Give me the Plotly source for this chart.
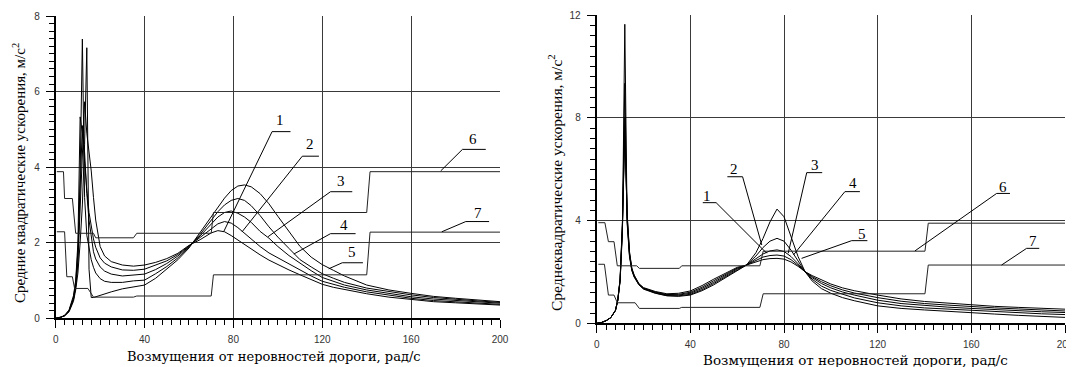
import plotly.graph_objects as go

# ---------------- data: left chart ----------------
xl = [0, 2, 4, 6, 8, 9, 10, 11, 12, 13, 14, 15, 16, 17, 18, 20, 22, 25, 30, 35, 40, 45, 50, 55, 60, 65, 70,
      73, 76, 79, 82, 85, 88, 92, 96, 100, 105, 110, 115, 120, 125, 130, 140, 150, 160, 170, 180, 190, 200]
l1 = [0, 0.02, 0.07, 0.2, 0.5, 0.85, 1.5, 3.0, 4.6, 5.73, 4.9, 4.4, 3.9, 3.2, 2.6, 1.9, 1.65, 1.5, 1.41, 1.38, 1.41,
      1.48, 1.58, 1.72, 1.93, 2.08, 2.26, 2.32, 2.29, 2.19, 2.07, 1.95, 1.83, 1.68, 1.54, 1.42, 1.28, 1.15, 1.02, 0.9,
      0.82, 0.76, 0.65, 0.56, 0.49, 0.44, 0.41, 0.38, 0.35]
l2 = [0, 0.02, 0.08, 0.22, 0.6, 1.0, 2.0, 5.33, 4.9, 4.1, 3.4, 2.8, 2.4, 2.1, 1.88, 1.6, 1.46, 1.36, 1.28, 1.27, 1.30,
      1.40, 1.52, 1.69, 1.92, 2.13, 2.38, 2.5, 2.56, 2.52, 2.4, 2.25, 2.1, 1.9, 1.73, 1.6, 1.43, 1.28, 1.12, 0.98,
      0.89, 0.82, 0.7, 0.61, 0.53, 0.47, 0.44, 0.4, 0.37]
l3 = [0, 0.02, 0.07, 0.2, 0.55, 0.95, 1.8, 3.5, 5.1, 4.4, 3.3, 2.6, 2.1, 1.76, 1.57, 1.36, 1.25, 1.17, 1.12, 1.14, 1.17,
      1.29, 1.45, 1.65, 1.90, 2.18, 2.5, 2.68, 2.8, 2.84, 2.78, 2.68, 2.54, 2.3, 2.12, 1.9, 1.66, 1.45, 1.26, 1.08,
      0.97, 0.88, 0.75, 0.65, 0.57, 0.51, 0.47, 0.43, 0.40]
l4 = [0, 0.02, 0.07, 0.19, 0.5, 0.85, 1.5, 3.8, 7.39, 3.2, 2.2, 1.85, 1.55, 1.35, 1.2, 1.05, 0.98, 0.95, 0.95, 0.99, 1.01,
      1.18, 1.37, 1.60, 1.89, 2.22, 2.6, 2.82, 3.0, 3.12, 3.17, 3.12, 2.98, 2.72, 2.42, 2.15, 1.85, 1.55, 1.36, 1.18,
      1.06, 0.95, 0.8, 0.7, 0.62, 0.55, 0.5, 0.46, 0.42]
l5 = [0, 0.02, 0.06, 0.17, 0.45, 0.75, 1.2, 2.0, 3.0, 4.6, 7.16, 1.3, 0.55, 0.55, 0.57, 0.62, 0.66, 0.70, 0.78, 0.84,
      0.88, 1.06, 1.30, 1.55, 1.86, 2.27, 2.7, 2.95, 3.18, 3.38, 3.5, 3.53, 3.48, 3.3, 3.03, 2.7, 2.3, 1.9, 1.62, 1.42,
      1.27, 1.12, 0.88, 0.75, 0.66, 0.58, 0.53, 0.48, 0.44]
l6x = [0.5, 3.5, 4.0, 7.5, 9.0, 17.0, 18.0, 35.0, 36.5, 70.0, 71.0, 140.0, 141.5, 200]
l6y = [3.88, 3.88, 3.17, 3.17, 2.25, 2.25, 2.13, 2.13, 2.25, 2.25, 2.8, 2.8, 3.88, 3.88]
l7x = [0.5, 4.0, 5.0, 7.5, 8.5, 14.5, 17.0, 35.0, 36.5, 70.0, 71.0, 140.0, 141.5, 200]
l7y = [2.29, 2.29, 1.10, 1.10, 0.79, 0.79, 0.56, 0.56, 0.59, 0.59, 1.15, 1.15, 2.28, 2.28]

# ---------------- data: right chart ----------------
xr = [0, 2, 4, 6, 8, 9, 10, 11, 12, 13, 14, 15, 16, 18, 20, 25, 30, 35, 40, 45, 50, 55, 60, 64, 68, 71, 74, 77,
      80, 83, 86, 89, 92, 96, 100, 105, 110, 120, 130, 140, 150, 160, 170, 180, 190, 200]
rA = [0, 0.03, 0.1, 0.22, 0.5, 0.88, 1.65, 3.6, 11.65, 3.9, 2.6, 2.05, 1.8, 1.5, 1.33, 1.17, 1.07, 1.05, 1.10, 1.27,
      1.50, 1.78, 2.05, 2.27, 2.75, 3.3, 3.95, 4.45, 4.15, 3.35, 2.6, 2.01, 1.65, 1.35, 1.17, 1.0, 0.88, 0.68, 0.58,
      0.52, 0.46, 0.41, 0.36, 0.31, 0.27, 0.23]
rB = [0, 0.03, 0.1, 0.22, 0.5, 0.89, 1.67, 3.7, 9.35, 4.0, 2.65, 2.08, 1.82, 1.51, 1.35, 1.18, 1.08, 1.07, 1.13, 1.31,
      1.55, 1.82, 2.08, 2.27, 2.62, 2.95, 3.2, 3.31, 3.2, 2.85, 2.42, 2.01, 1.72, 1.45, 1.28, 1.12, 0.99, 0.8, 0.68,
      0.6, 0.55, 0.5, 0.45, 0.41, 0.37, 0.34]
rC = [0, 0.03, 0.1, 0.22, 0.5, 0.9, 1.69, 3.8, 8.0, 4.1, 2.7, 2.1, 1.84, 1.52, 1.36, 1.20, 1.10, 1.10, 1.17, 1.36,
      1.60, 1.86, 2.12, 2.27, 2.52, 2.7, 2.82, 2.86, 2.8, 2.6, 2.32, 2.01, 1.78, 1.55, 1.38, 1.22, 1.1, 0.9, 0.77,
      0.69, 0.63, 0.58, 0.53, 0.49, 0.45, 0.42]
rD = [0, 0.03, 0.1, 0.22, 0.5, 0.91, 1.71, 3.9, 7.7, 4.2, 2.75, 2.12, 1.86, 1.53, 1.37, 1.22, 1.12, 1.13, 1.21, 1.41,
      1.66, 1.9, 2.15, 2.27, 2.46, 2.58, 2.64, 2.66, 2.62, 2.48, 2.26, 2.01, 1.82, 1.62, 1.46, 1.3, 1.18, 1.0, 0.86,
      0.77, 0.71, 0.65, 0.6, 0.56, 0.52, 0.48]
rE = [0, 0.03, 0.1, 0.22, 0.5, 0.92, 1.73, 4.0, 7.3, 4.3, 2.8, 2.15, 1.88, 1.55, 1.39, 1.24, 1.15, 1.17, 1.26, 1.47,
      1.72, 1.95, 2.18, 2.27, 2.4, 2.48, 2.52, 2.53, 2.5, 2.39, 2.22, 2.01, 1.86, 1.68, 1.53, 1.38, 1.27, 1.1, 0.95,
      0.85, 0.78, 0.71, 0.66, 0.62, 0.58, 0.55]
r6x = [0.7, 3.5, 5.0, 7.4, 8.8, 17.1, 18.2, 35.3, 36.3, 69.7, 71.1, 140.2, 141.6, 200]
r6y = [3.92, 3.92, 3.18, 3.18, 2.24, 2.24, 2.14, 2.14, 2.24, 2.24, 2.81, 2.81, 3.90, 3.90]
r7x = [0.7, 3.3, 5.0, 7.4, 8.8, 16.4, 18.2, 35.3, 36.3, 69.7, 71.1, 140.2, 141.6, 200]
r7y = [2.30, 2.30, 1.10, 1.10, 0.80, 0.80, 0.58, 0.58, 0.62, 0.62, 1.15, 1.15, 2.27, 2.27]

x_ticks = [0, 40, 80, 120, 160, 200]
yl_ticks = [0, 2, 4, 6, 8]
yr_ticks = [0, 4, 8, 12]

y_title_left = "Средние квадратические ускорения, м/с<sup>2</sup>"
y_title_right = "Среднеквадратические ускорения, м/с<sup>2</sup>"
x_title = "Возмущения от неровностей дороги, рад/с"

# label: text, text position, underline (x0, x1, y), leader target, which end of underline leader starts
left_labels = [
    ("1", 100.9, 5.25, 97.4, 105.7, 4.94, 75.6, 2.29, "L"),
    ("2", 114.6, 4.60, 111.0, 118.5, 4.29, 83.9, 2.29, "L"),
    ("3", 128.4, 3.64, 123.7, 133.5, 3.35, 95.6, 2.16, "L"),
    ("4", 129.9, 2.47, 123.7, 135.0, 2.24, 107.2, 1.70, "L"),
    ("5", 133.2, 1.75, 129.0, 138.3, 1.47, 122.9, 1.31, "L"),
    ("6", 188.0, 4.74, 183.1, 193.6, 4.47, 173.3, 3.90, "L"),
    ("7", 190.3, 2.78, 184.6, 195.1, 2.56, 173.8, 2.29, "L"),
]
right_labels = [
    ("1", 47.0, 4.97, 45.3, 51.0, 4.70, 72.6, 2.73, "R"),
    ("2", 58.8, 6.01, 55.8, 62.3, 5.71, 70.5, 3.05, "R"),
    ("3", 93.2, 6.17, 89.7, 96.3, 5.87, 81.8, 2.73, "L"),
    ("4", 109.6, 5.45, 106.0, 112.4, 5.13, 84.0, 2.66, "L"),
    ("5", 113.4, 3.48, 108.9, 115.6, 3.22, 87.5, 2.53, "L"),
    ("6", 173.4, 5.32, 170.8, 176.5, 5.06, 135.9, 2.82, "L"),
    ("7", 186.2, 3.21, 183.6, 189.0, 2.92, 172.9, 2.27, "L"),
]

# page body has an 8px margin: build the figure in window pixels shifted by it
OFF = 8
W, H = 1074 - OFF, 367 - OFF
SERIF_WIDE = "DejaVu Serif, Liberation Serif, serif"
SERIF = "Liberation Serif, DejaVu Serif, serif"
SANS = "Liberation Sans, Arial, sans-serif"


def fx(px):
    return (px - OFF) / W


def fy(py):
    return 1 - (py - OFF) / H


fig = go.Figure()
line = dict(color="black", width=1)
for ys in (l1, l2, l3, l4, l5):
    fig.add_trace(go.Scatter(x=xl, y=ys, mode="lines", line=line, xaxis="x", yaxis="y", hoverinfo="skip"))
fig.add_trace(go.Scatter(x=l6x, y=l6y, mode="lines", line=dict(color="#222", width=1), xaxis="x", yaxis="y"))
fig.add_trace(go.Scatter(x=l7x, y=l7y, mode="lines", line=dict(color="#222", width=1), xaxis="x", yaxis="y"))
for ys in (rA, rB, rC, rD, rE):
    fig.add_trace(go.Scatter(x=xr, y=ys, mode="lines", line=line, xaxis="x2", yaxis="y2", hoverinfo="skip"))
fig.add_trace(go.Scatter(x=r6x, y=r6y, mode="lines", line=dict(color="#222", width=1), xaxis="x2", yaxis="y2"))
fig.add_trace(go.Scatter(x=r7x, y=r7y, mode="lines", line=dict(color="#222", width=1), xaxis="x2", yaxis="y2"))


def xaxis_cfg(domain, anchor):
    return dict(domain=domain, range=[0, 200], tickvals=x_ticks, ticks="outside", ticklen=8, tickwidth=1,
                tickcolor="black", showline=True, linewidth=2, linecolor="black", showgrid=True,
                gridcolor="#3a3a3a", gridwidth=1, zeroline=False, automargin=False, anchor=anchor,
                minor=dict(dtick=4, tick0=0, ticks="outside", ticklen=5, tickcolor="black", showgrid=False),
                tickfont=dict(family=SANS, size=10, color="#333"), ticklabelstandoff=3)


def yaxis_cfg(domain, rng, tv, mdt, anchor):
    return dict(domain=domain, range=rng, tickvals=tv, ticks="outside", ticklen=8, tickwidth=1,
                tickcolor="black", showline=True, linewidth=2, linecolor="black", showgrid=True,
                gridcolor="#3a3a3a", gridwidth=1, zeroline=False, anchor=anchor, automargin=False,
                minor=dict(dtick=mdt, tick0=0, ticks="outside", ticklen=5, tickcolor="black", showgrid=False),
                tickfont=dict(family=SANS, size=10, color="#333"), ticklabelstandoff=4)


fig.update_layout(
    template="none",
    width=W, height=H, margin=dict(l=0, r=0, t=0, b=0, pad=0, autoexpand=False), showlegend=False,
    paper_bgcolor="white", plot_bgcolor="white",
    xaxis=xaxis_cfg([fx(55.7), fx(500)], "y"),
    yaxis=yaxis_cfg([fy(318.3), fy(16)], [0, 8], yl_ticks, 0.2, "x"),
    xaxis2=xaxis_cfg([fx(596.7), fx(1065)], "y2"),
    yaxis2=yaxis_cfg([fy(323.3), fy(15.3)], [0, 12], yr_ticks, 0.4, "x2"),
)

annotations = []
shapes = []
for labels, xr_, yr_ in ((left_labels, "x", "y"), (right_labels, "x2", "y2")):
    for (t, tx, ty, u0, u1, uy, px_, py_, end) in labels:
        annotations.append(dict(text=t, x=tx, y=ty, xref=xr_, yref=yr_, showarrow=False,
                                font=dict(family=SERIF, size=15, color="black"),
                                xanchor="center", yanchor="middle"))
        start = u0 if end == "L" else u1
        other = u1 if end == "L" else u0
        shapes.append(dict(type="path", xref=xr_, yref=yr_,
                           path=f"M {px_},{py_} L {start},{uy} L {other},{uy}",
                           line=dict(color="black", width=1)))

annotations += [
    dict(text=y_title_left, x=fx(19), y=fy(173), xref="paper", yref="paper", showarrow=False,
         textangle=-90, font=dict(family=SERIF, size=15, color="black"), xanchor="center", yanchor="middle"),
    dict(text=y_title_right, x=fx(555), y=fy(183), xref="paper", yref="paper", showarrow=False,
         textangle=-90, font=dict(family=SERIF, size=15.5, color="black"), xanchor="center", yanchor="middle"),
    dict(text=x_title, x=fx(273.5), y=fy(356), xref="paper", yref="paper", showarrow=False,
         font=dict(family=SERIF_WIDE, size=13, color="black"), xanchor="center", yanchor="middle"),
    dict(text=x_title, x=fx(855.5), y=fy(360), xref="paper", yref="paper", showarrow=False,
         font=dict(family=SERIF_WIDE, size=13.5, color="black"), xanchor="center", yanchor="middle"),
]
fig.update_layout(annotations=annotations, shapes=shapes)

fig.write_html("out.html")
